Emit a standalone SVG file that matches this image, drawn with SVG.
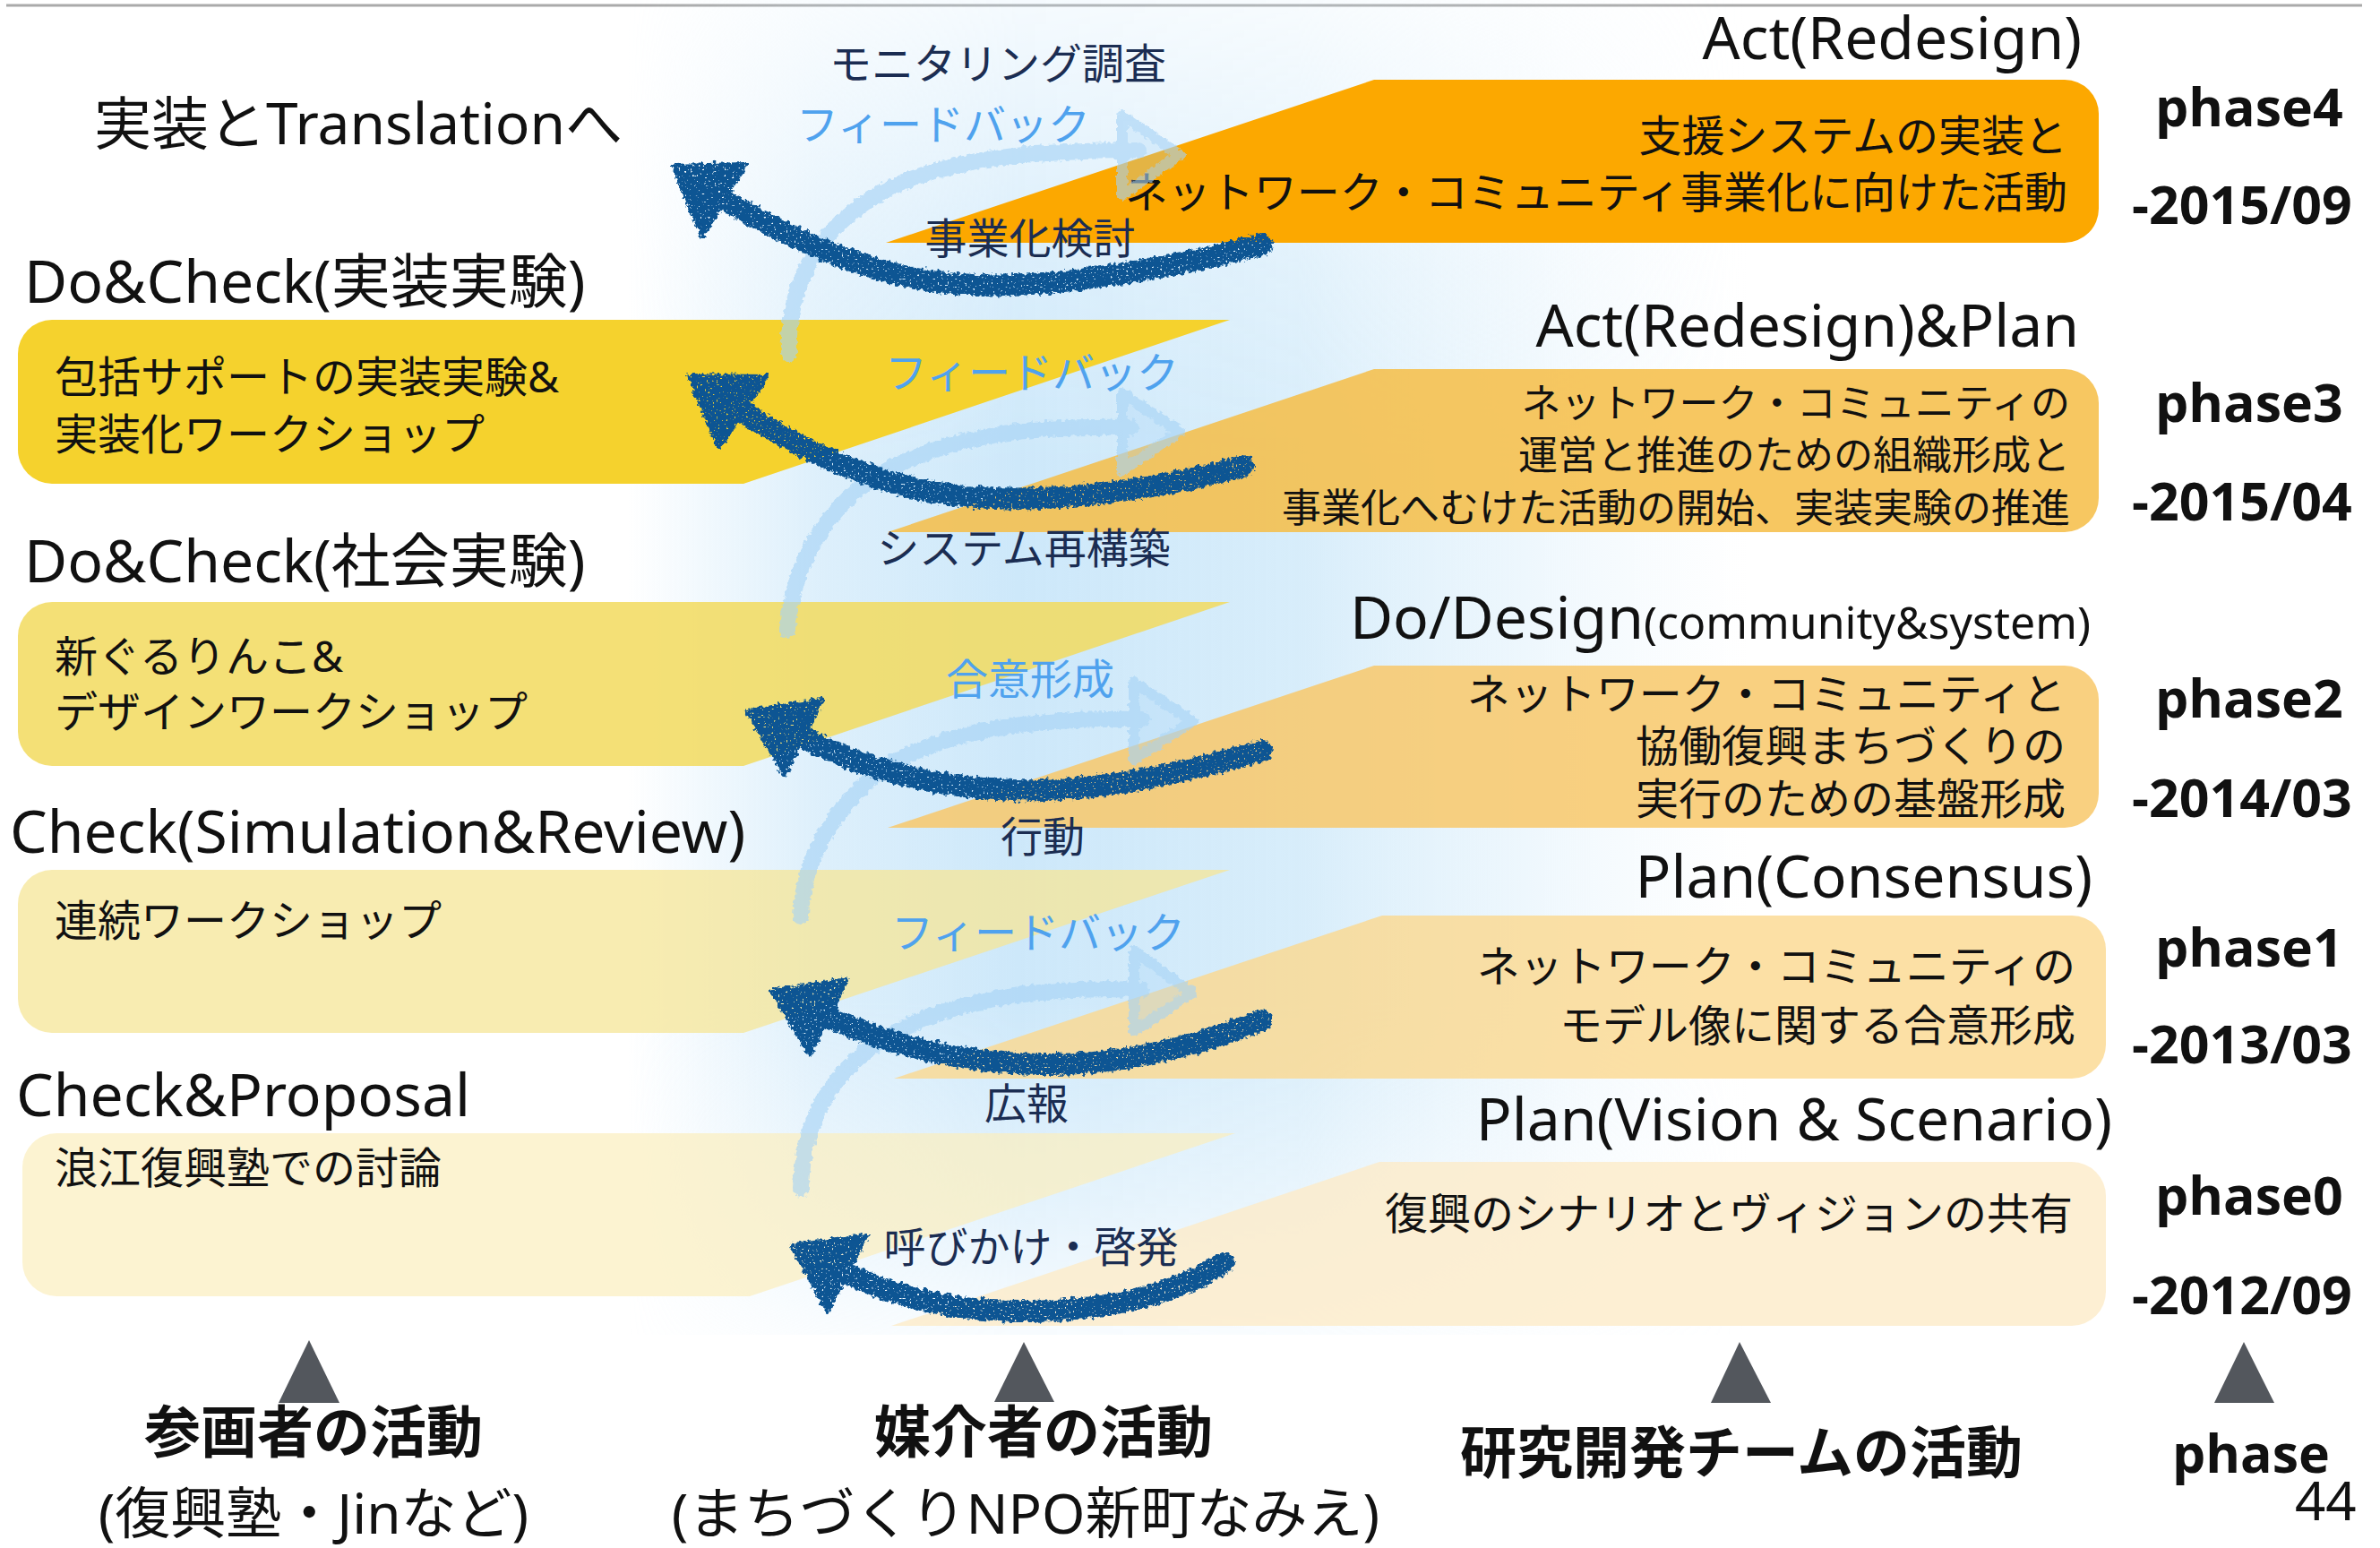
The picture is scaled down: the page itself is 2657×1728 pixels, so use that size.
<svg xmlns="http://www.w3.org/2000/svg" width="2657" height="1728" viewBox="0 0 2657 1728">
<defs>
<style>
.t{font-family:"Noto Sans","Noto Sans CJK JP",sans-serif;fill:#111}
.title{font-size:66px}
.body{font-size:48px}
.end{text-anchor:end}
.mid{text-anchor:middle}
.navy{fill:#1B2D52;font-size:47px;text-anchor:middle}
.sky{fill:#4FA2EE;font-size:47px;text-anchor:middle}
.phase{font-family:"Open Sans","Noto Sans",sans-serif;font-weight:700;font-size:59px;fill:#111}
.bold{font-family:"Noto Sans CJK JP","Noto Sans",sans-serif;font-weight:700;font-size:63px;text-anchor:middle;fill:#111}
.sub{font-size:62px;text-anchor:middle}
.dark{fill:none;stroke:#0A5493;stroke-width:24;stroke-linecap:round}
.darkhead{fill:#0A5493;stroke:#0A5493;stroke-width:6;stroke-linejoin:round}
.light{fill:none;stroke:#A6D3F6;stroke-width:18;stroke-linecap:round}
.lighthead{fill:#A6D3F6;fill-opacity:0.45;stroke:#A6D3F6;stroke-width:12;stroke-linejoin:round}
.tri{fill:#53575D}
</style>
<linearGradient id="glowH" x1="700" y1="0" x2="1950" y2="0" gradientUnits="userSpaceOnUse">
<stop offset="0" stop-color="#CFE9FA" stop-opacity="0"/>
<stop offset="0.17" stop-color="#CFE9FA" stop-opacity="0.7"/>
<stop offset="0.35" stop-color="#CDE8FA" stop-opacity="1"/>
<stop offset="0.6" stop-color="#D3EBFA" stop-opacity="0.9"/>
<stop offset="0.8" stop-color="#DCEFFB" stop-opacity="0.5"/>
<stop offset="1" stop-color="#E6F3FC" stop-opacity="0"/>
</linearGradient>
<linearGradient id="glowV" x1="0" y1="0" x2="0" y2="1490" gradientUnits="userSpaceOnUse">
<stop offset="0" stop-color="#fff" stop-opacity="0.2"/>
<stop offset="0.2" stop-color="#fff" stop-opacity="0.75"/>
<stop offset="0.35" stop-color="#fff" stop-opacity="1"/>
<stop offset="0.75" stop-color="#fff" stop-opacity="1"/>
<stop offset="0.9" stop-color="#fff" stop-opacity="0.55"/>
<stop offset="1" stop-color="#fff" stop-opacity="0.15"/>
</linearGradient>
<mask id="glowMask" maskUnits="userSpaceOnUse" x="0" y="0" width="2657" height="1728">
<rect x="600" y="0" width="1500" height="1490" fill="url(#glowV)"/>
</mask>
<filter id="crayon" x="-5%" y="-10%" width="110%" height="120%">
<feTurbulence type="fractalNoise" baseFrequency="0.22" numOctaves="2" seed="7" result="noise"/>
<feDisplacementMap in="SourceGraphic" in2="noise" scale="9" xChannelSelector="R" yChannelSelector="G" result="d"/>
<feTurbulence type="fractalNoise" baseFrequency="0.45" numOctaves="1" seed="3" result="n2"/>
<feColorMatrix in="n2" type="matrix" values="0 0 0 0 0  0 0 0 0 0  0 0 0 0 0  0 0 0 -14 10.2" result="holes"/>
<feComposite in="d" in2="holes" operator="in"/>
</filter>
<filter id="chalk" x="-5%" y="-10%" width="110%" height="120%">
<feTurbulence type="fractalNoise" baseFrequency="0.2" numOctaves="2" seed="11" result="noise"/>
<feDisplacementMap in="SourceGraphic" in2="noise" scale="7" xChannelSelector="R" yChannelSelector="G"/>
</filter>
</defs>

<rect x="0" y="0" width="2657" height="1728" fill="#FFFFFF"/>
<line x1="7" y1="6" x2="2637" y2="6" stroke="#AAAAAA" stroke-width="3"/>

<g id="background-glow">
<rect x="600" y="0" width="1500" height="1490" fill="url(#glowH)" mask="url(#glowMask)"/>
</g>

<!-- Participant (left) nodes -->
<g id="left-top">
<text class="t" x="105" y="161" font-size="64">実装とTranslationへ</text>
</g>
<g id="left-phase3">
<text class="t title" x="27" y="338">Do&amp;Check(実装実験)</text>
<path d="M58,357 H1373 L830,540 H58 A38,38 0 0 1 20,502 V395 A38,38 0 0 1 58,357 Z" fill="#F5D22D"/>
<text class="t body" x="61" y="438">包括サポートの実装実験&amp;</text>
<text class="t body" x="61" y="502">実装化ワークショップ</text>
</g>
<g id="left-phase2">
<text class="t title" x="27" y="650">Do&amp;Check(社会実験)</text>
<path d="M58,672 H1373 L830,855 H58 A38,38 0 0 1 20,817 V710 A38,38 0 0 1 58,672 Z" fill="#F2DA5E" fill-opacity="0.85"/>
<text class="t body" x="61" y="750">新ぐるりんこ&amp;</text>
<text class="t body" x="61" y="812">デザインワークショップ</text>
</g>
<g id="left-phase1">
<text class="t title" x="11" y="952">Check(Simulation&amp;Review)</text>
<path d="M58,971 H1373 L830,1153 H58 A38,38 0 0 1 20,1115 V1009 A38,38 0 0 1 58,971 Z" fill="#F6E697" fill-opacity="0.75"/>
<text class="t body" x="61" y="1045">連続ワークショップ</text>
</g>
<g id="left-phase0">
<text class="t title" x="18" y="1246">Check&amp;Proposal</text>
<path d="M63,1265 H1379 L837,1447 H63 A38,38 0 0 1 25,1409 V1303 A38,38 0 0 1 63,1265 Z" fill="#FBEEBE" fill-opacity="0.7"/>
<text class="t body" x="61" y="1321">浪江復興塾での討論</text>
</g>

<!-- Research team (right) nodes -->
<g id="right-phase4">
<text class="t title end" x="2324" y="66">Act(Redesign)</text>
<path d="M989,271 L1534,89 H2305 A38,38 0 0 1 2343,127 V233 A38,38 0 0 1 2305,271 Z" fill="#FCA800"/>
<text class="t body end" x="2308" y="169">支援システムの実装と</text>
<text class="t body end" x="2308" y="232">ネットワーク・コミュニティ事業化に向けた活動</text>
</g>
<g id="right-phase3">
<text class="t title end" x="2321" y="387">Act(Redesign)&amp;Plan</text>
<path d="M991,594 L1534,412 H2305 A38,38 0 0 1 2343,450 V556 A38,38 0 0 1 2305,594 Z" fill="#F6BD45" fill-opacity="0.85"/>
<text class="t end" font-size="44" x="2311" y="466">ネットワーク・コミュニティの</text>
<text class="t end" font-size="44" x="2311" y="524">運営と推進のための組織形成と</text>
<text class="t end" font-size="44" x="2311" y="583">事業化へむけた活動の開始、実装実験の推進</text>
</g>
<g id="right-phase2">
<text class="t title end" x="2334" y="713">Do/Design<tspan font-size="50">(community&amp;system)</tspan></text>
<path d="M991,924 L1534,743 H2305 A38,38 0 0 1 2343,781 V886 A38,38 0 0 1 2305,924 Z" fill="#F8C86A" fill-opacity="0.85"/>
<text class="t body end" x="2306" y="792">ネットワーク・コミュニティと</text>
<text class="t body end" x="2306" y="850">協働復興まちづくりの</text>
<text class="t body end" x="2306" y="909">実行のための基盤形成</text>
</g>
<g id="right-phase1">
<text class="t title end" x="2336" y="1002">Plan(Consensus)</text>
<path d="M998,1204 L1543,1022 H2313 A38,38 0 0 1 2351,1060 V1166 A38,38 0 0 1 2313,1204 Z" fill="#FBD88E" fill-opacity="0.8"/>
<text class="t body end" x="2317" y="1096">ネットワーク・コミュニティの</text>
<text class="t body end" x="2317" y="1162">モデル像に関する合意形成</text>
</g>
<g id="right-phase0">
<text class="t title end" x="2358" y="1273">Plan(Vision &amp; Scenario)</text>
<path d="M995,1480 L1540,1297 H2313 A38,38 0 0 1 2351,1335 V1442 A38,38 0 0 1 2313,1480 Z" fill="#FDEBC8" fill-opacity="0.8"/>
<text class="t body end" x="2314" y="1372">復興のシナリオとヴィジョンの共有</text>
</g>

<!-- Phase column -->
<g id="phase4"><text class="phase" x="2406" y="141">phase4</text><text class="phase" x="2380" y="250">-2015/09</text></g>
<g id="phase3"><text class="phase" x="2406" y="471">phase3</text><text class="phase" x="2380" y="581">-2015/04</text></g>
<g id="phase2"><text class="phase" x="2406" y="801">phase2</text><text class="phase" x="2380" y="912">-2014/03</text></g>
<g id="phase1"><text class="phase" x="2406" y="1079">phase1</text><text class="phase" x="2380" y="1187">-2013/03</text></g>
<g id="phase0"><text class="phase" x="2406" y="1356">phase0</text><text class="phase" x="2380" y="1467">-2012/09</text></g>

<!-- Connectors -->
<g id="connectors">
<g id="feedback-arrows" filter="url(#chalk)" opacity="0.62">
<path class="light" d="M881,395 C878,330 905,270 960,230 C1030,180 1130,168 1271,168"/>
<polygon class="lighthead" points="1253,129 1317,173 1253,218"/>
<path class="light" d="M879,703 C885,630 920,570 980,530 C1060,485 1150,475 1262,477"/>
<polygon class="lighthead" points="1253,439 1317,482 1253,525"/>
<path class="light" d="M894,1023 C896,960 930,900 990,855 C1060,815 1150,801 1275,803"/>
<polygon class="lighthead" points="1266,762 1331,805 1266,848"/>
<path class="light" d="M894,1327 C896,1250 930,1190 1000,1152 C1070,1115 1160,1101 1275,1105"/>
<polygon class="lighthead" points="1266,1062 1331,1108 1266,1151"/>
</g>
<g id="support-arrows" filter="url(#crayon)">
<path class="dark" d="M1409,273 C1300,300 1150,330 1040,314 C960,302 880,265 808,223"/>
<polygon class="darkhead" points="752,186 832,184 784,263"/>
<path class="dark" d="M1388,520 C1290,548 1160,565 1060,552 C980,542 900,505 829,460"/>
<polygon class="darkhead" points="770,420 855,421 803,498"/>
<path class="dark" d="M1409,838 C1330,860 1230,885 1130,882 C1040,879 960,857 896,823"/>
<polygon class="darkhead" points="835,794 917,782 876,864"/>
<path class="dark" d="M1409,1139 C1340,1165 1260,1190 1160,1188 C1070,1186 990,1165 924,1135"/>
<polygon class="darkhead" points="862,1107 945,1094 904,1176"/>
<path class="dark" d="M1367,1409 C1320,1440 1250,1462 1150,1464 C1070,1465 1000,1448 945,1421"/>
<polygon class="darkhead" points="885,1390 966,1380 924,1463"/>
</g>
</g>

<g id="connector-labels">
<text class="t navy" x="1114" y="88">モニタリング調査</text>
<text class="t sky" x="1053" y="156">フィードバック</text>
<text class="t navy" x="1150" y="283">事業化検討</text>
<text class="t sky" x="1152" y="433">フィードバック</text>
<text class="t navy" x="1143" y="629">システム再構築</text>
<text class="t sky" x="1150" y="775">合意形成</text>
<text class="t navy" x="1164" y="951">行動</text>
<text class="t sky" x="1159" y="1058">フィードバック</text>
<text class="t navy" x="1146" y="1249">広報</text>
<text class="t navy" x="1151" y="1409">呼びかけ・啓発</text>
</g>

<!-- Bottom axis labels -->
<g id="axis-participants">
<polygon class="tri" points="345,1496 311,1566 379,1566"/>
<text class="bold" x="350" y="1621">参画者の活動</text>
<text class="t sub" x="350" y="1712">(復興塾・Jinなど)</text>
</g>
<g id="axis-mediator">
<polygon class="tri" points="1143,1498 1110,1565 1177,1565"/>
<text class="bold" x="1165" y="1621">媒介者の活動</text>
<text class="t sub" x="1145" y="1712">(まちづくりNPO新町なみえ)</text>
</g>
<g id="axis-research">
<polygon class="tri" points="1942,1498 1910,1566 1977,1566"/>
<text class="bold" x="1944" y="1644">研究開発チームの活動</text>
</g>
<g id="axis-phase">
<polygon class="tri" points="2505,1498 2472,1566 2539,1566"/>
<text class="phase" x="2425" y="1644">phase</text>
</g>
<text class="t" x="2562" y="1697" font-size="60">44</text>
</svg>
